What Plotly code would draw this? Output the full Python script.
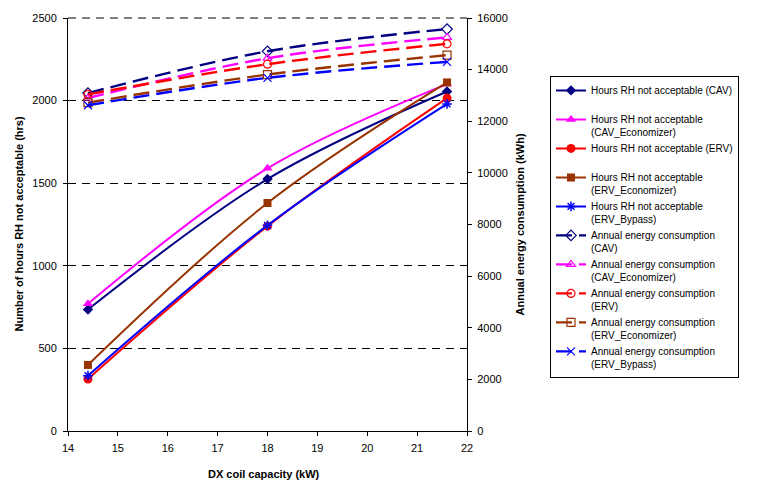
import plotly.graph_objects as go

# ---- data ----
capacity = [14.4, 18.0, 21.6]
hours_cav = [735, 1525, 2055]
hours_cav_econ = [770, 1590, 2100]
hours_erv = [315, 1240, 2015]
hours_erv_econ = [400, 1380, 2110]
hours_erv_bypass = [335, 1245, 1980]
energy_cav = [13090, 14710, 15570]
energy_cav_econ = [12900, 14440, 15250]
energy_erv = [13040, 14210, 15000]
energy_erv_econ = [12720, 13810, 14560]
energy_erv_bypass = [12620, 13680, 14300]

x_ticks = [14, 15, 16, 17, 18, 19, 20, 21, 22]
left_ticks = [0, 500, 1000, 1500, 2000, 2500]
right_ticks = [0, 2000, 4000, 6000, 8000, 10000, 12000, 14000, 16000]

NAVY = "#000080"
MAG = "#FF00FF"
RED = "#FF0000"
BROWN = "#993300"
BLUE = "#0000FF"
FONT = "Liberation Sans, Arial, sans-serif"

fig = go.Figure()

hours_series = [
    ("Hours RH not acceptable (CAV)<br> ", hours_cav, NAVY, "diamond", 8),
    ("Hours RH not acceptable<br>(CAV_Economizer)", hours_cav_econ, MAG, "triangle-up", 9),
    ("Hours RH not acceptable (ERV)<br> ", hours_erv, RED, "circle", 9),
    ("Hours RH not acceptable<br>(ERV_Economizer)", hours_erv_econ, BROWN, "square", 8),
    ("Hours RH not acceptable<br>(ERV_Bypass)", hours_erv_bypass, BLUE, "asterisk-open", 8),
]
for name, ys, col, sym, sz in hours_series:
    fig.add_trace(go.Scatter(
        x=capacity, y=ys, name=name, mode="lines+markers",
        line=dict(color=col, width=2, shape="spline"),
        marker=dict(symbol=sym, size=sz, color=col, line=dict(color=col, width=1.5 if "open" in sym else 0)),
        yaxis="y",
    ))

energy_series = [
    ("Annual energy consumption<br>(CAV)", energy_cav, NAVY, "diamond-open", 8),
    ("Annual energy consumption<br>(CAV_Economizer)", energy_cav_econ, MAG, "triangle-up-open", 8),
    ("Annual energy consumption<br>(ERV)", energy_erv, RED, "circle-open", 8),
    ("Annual energy consumption<br>(ERV_Economizer)", energy_erv_econ, BROWN, "square-open", 8),
    ("Annual energy consumption<br>(ERV_Bypass)", energy_erv_bypass, BLUE, "x-thin-open", 8),
]
for name, ys, col, sym, sz in energy_series:
    fig.add_trace(go.Scatter(
        x=capacity, y=ys, name=name, mode="lines+markers",
        line=dict(color=col, width=2.4, shape="spline", dash="16px,7px"),
        marker=dict(symbol=sym, size=sz, color=col, line=dict(color=col, width=1.2)),
        yaxis="y2",
    ))

axis_common = dict(
    showline=True, linecolor="black", linewidth=1,
    ticks="outside", ticklen=4, tickcolor="black", tickwidth=1,
    tickfont=dict(family=FONT, size=11, color="black"),
    zeroline=False,
)

fig.update_layout(
    width=759, height=488,
    margin=dict(l=68, r=292, t=13, b=57),
    paper_bgcolor="white", plot_bgcolor="white",
    font=dict(family=FONT, size=11, color="black"),
    xaxis=dict(range=[14, 22], tickvals=x_ticks, showgrid=False,
               ticklabelstandoff=3, **axis_common),
    yaxis=dict(range=[0, 2500], tickvals=left_ticks, showgrid=True,
               gridcolor="black", gridwidth=1, griddash="8px,6px",
               ticklabelstandoff=4, tickformat="d", **axis_common),
    yaxis2=dict(range=[0, 16000], tickvals=right_ticks, overlaying="y", side="right",
                showgrid=False, ticklabelstandoff=3, tickformat="d", **axis_common),
    showlegend=True,
    legend=dict(
        x=1.208, y=0.493, xanchor="left", yanchor="middle",
        bordercolor="black", borderwidth=1, bgcolor="white",
        font=dict(family=FONT, size=10, color="black"),
        valign="top", tracegroupgap=0, entrywidth=160, entrywidthmode="pixels",
    ),
    shapes=[
        # top gridline (2500) drawn at the plot edge like the other dashed gridlines
        dict(type="line", xref="paper", yref="y domain", x0=0, x1=1, y0=1, y1=1,
             line=dict(color="black", width=1, dash="8px,6px"), layer="below"),
    ],
    annotations=[
        dict(text="<b>Number of hours RH not acceptable (hrs)</b>", xref="paper", yref="paper",
             x=-0.1253, y=0.5, xanchor="center", yanchor="middle", textangle=-90,
             showarrow=False, font=dict(family=FONT, size=11, color="black")),
        dict(text="<b>Annual energy consumption (kWh)</b>", xref="paper", yref="paper",
             x=1.1328, y=0.5, xanchor="center", yanchor="middle", textangle=-90,
             showarrow=False, font=dict(family=FONT, size=11, color="black")),
        dict(text="<b>DX coil capacity (kW)</b>", xref="paper", yref="paper",
             x=0.49, y=-0.103, xanchor="center", yanchor="middle",
             showarrow=False, font=dict(family=FONT, size=11, color="black")),
    ],
)

fig.write_html("out.html")
